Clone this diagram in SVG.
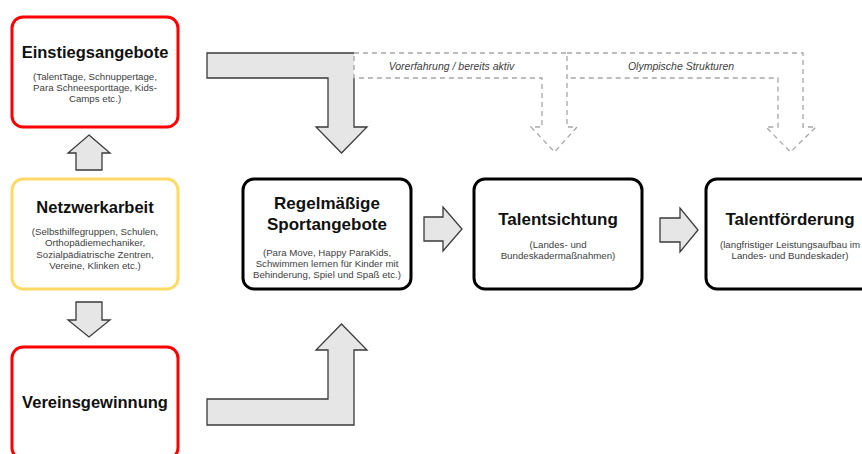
<svg xmlns="http://www.w3.org/2000/svg" width="862" height="454" viewBox="0 0 862 454">
<style>
.box{fill:#fff;stroke-width:3}
.red{stroke:#FF0000}
.yel{stroke:#FFD966}
.blk{stroke:#000}
.t{font-family:"Liberation Sans",Arial,sans-serif;font-weight:bold;fill:#111;text-anchor:middle}
.s{font-family:"Liberation Sans",Arial,sans-serif;font-size:9.7px;fill:#404040;text-anchor:middle}
.i{font-family:"Liberation Sans",Arial,sans-serif;font-size:10.5px;font-style:italic;fill:#404040;text-anchor:middle}
.arr{fill:#E6E6E6;stroke:#3A3A3A;stroke-width:1.3;stroke-linejoin:miter}
.fillonly{fill:#E6E6E6;stroke:none}
.edge{fill:none;stroke:#3A3A3A;stroke-width:1.3}
.dash{fill:none;stroke:#A6A6A6;stroke-width:1.3;stroke-dasharray:5 4}
</style>
<rect width="862" height="454" fill="#fff"/>

<g id="connectors">
  <!-- top L arrow into Regelmaessige -->
  <polygon class="fillonly" points="207,53 354,53 354,127 367,127 341.5,153 316,127 328,127 328,78 207,78"/>
  <path class="edge" d="M354,78 L354,127 L367,127 L341.5,153 L316,127 L328,127 L328,78 L207,78 L207,53 L354,53"/>
  <!-- dashed arrow Vorerfahrung -->
  <path class="dash" d="M354,53 L567,53 L567,127 L577,127 L554.5,152 L531,127 L542,127 L542,78 L354,78 Z"/>
  <!-- dashed arrow Olympische Strukturen -->
  <path class="dash" d="M567,53 L803,53 L803,127 L816,127 L790.5,152 L766,127 L778,127 L778,78 L567,78"/>
  <text class="i" x="451.5" y="69.5">Vorerfahrung / bereits aktiv</text>
  <text class="i" x="681" y="69.5">Olympische Strukturen</text>
  <!-- bottom L arrow -->
  <polygon class="arr" points="207,399 328,399 328,350 316,350 341.5,324 367,350 354,350 354,425 207,425"/>
  <!-- up arrow Netzwerk -> Einstieg -->
  <polygon class="arr" points="89,135 110,153 102,153 102,170 76,170 76,153 68,153"/>
  <!-- down arrow Netzwerk -> Vereins -->
  <polygon class="arr" points="76,302 102,302 102,320 110,320 89,337 68,320 76,320"/>
  <!-- right arrows -->
  <polygon class="arr" points="424,217 443,217 443,207 462,229 443,251 443,241 424,241"/>
  <polygon class="arr" points="660,218 680,218 680,208 698,230 680,252 680,242 660,242"/>
</g>

<g id="einstiegsangebote">
  <rect class="box red" x="12" y="17" width="166" height="110" rx="11"/>
  <text class="t" x="95" y="58" font-size="16.5">Einstiegsangebote</text>
  <text class="s" x="95" y="80">(TalentTage, Schnuppertage,</text>
  <text class="s" x="95" y="91">Para Schneesporttage, Kids-</text>
  <text class="s" x="95" y="102">Camps etc.)</text>
</g>

<g id="netzwerkarbeit">
  <rect class="box yel" x="12" y="179" width="166" height="110" rx="11"/>
  <text class="t" x="95" y="212.5" font-size="16.5">Netzwerkarbeit</text>
  <text class="s" x="95" y="235">(Selbsthilfegruppen, Schulen,</text>
  <text class="s" x="95" y="246.3">Orthopädiemechaniker,</text>
  <text class="s" x="95" y="257.6">Sozialpädiatrische Zentren,</text>
  <text class="s" x="95" y="269">Vereine, Klinken etc.)</text>
</g>

<g id="vereinsgewinnung">
  <rect class="box red" x="12" y="347" width="166" height="112" rx="11"/>
  <text class="t" x="95" y="408" font-size="16.5">Vereinsgewinnung</text>
</g>

<g id="regelmaessige">
  <rect class="box blk" x="243" y="179" width="168" height="110" rx="11"/>
  <text class="t" x="327" y="209" font-size="17">Regelmäßige</text>
  <text class="t" x="327" y="230" font-size="17">Sportangebote</text>
  <text class="s" x="327" y="256">(Para Move, Happy ParaKids,</text>
  <text class="s" x="327" y="267">Schwimmen lernen für Kinder mit</text>
  <text class="s" x="327" y="277.5">Behinderung, Spiel und Spaß etc.)</text>
</g>

<g id="talentsichtung">
  <rect class="box blk" x="474" y="179" width="168" height="110" rx="11"/>
  <text class="t" x="558" y="224.5" font-size="17">Talentsichtung</text>
  <text class="s" x="558" y="247.5">(Landes- und</text>
  <text class="s" x="558" y="259">Bundeskadermaßnahmen)</text>
</g>

<g id="talentfoerderung">
  <rect class="box blk" x="706" y="179" width="168" height="110" rx="11"/>
  <text class="t" x="790" y="224.5" font-size="17">Talentförderung</text>
  <text class="s" x="790" y="247.5">(langfristiger Leistungsaufbau im</text>
  <text class="s" x="790" y="258.5">Landes- und Bundeskader)</text>
</g>
</svg>
